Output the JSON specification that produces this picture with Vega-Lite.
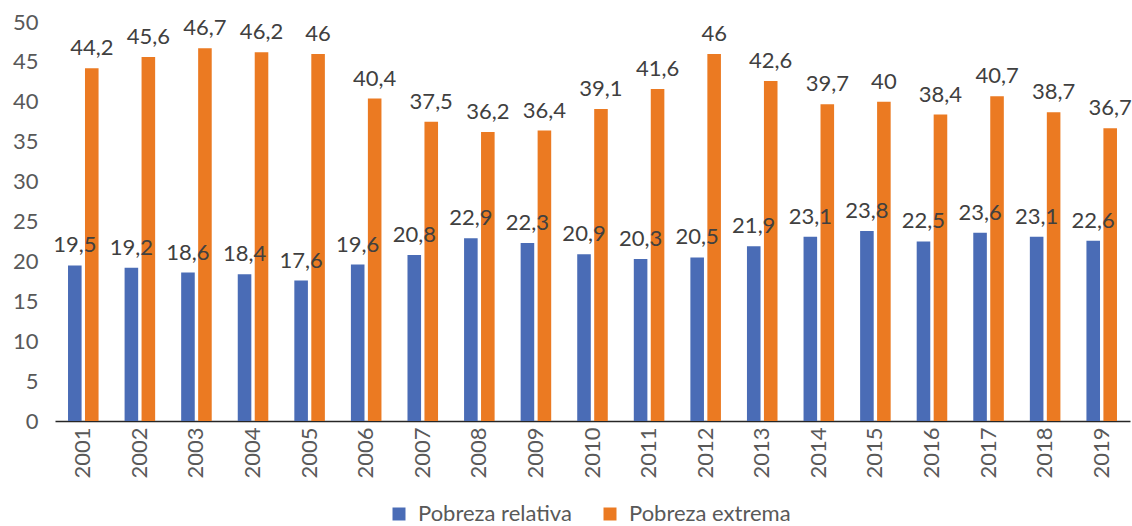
{
  "$schema": "https://vega.github.io/schema/vega-lite/v6.json",
  "width": 1075,
  "height": 399,
  "autosize": {"type": "none"},
  "padding": {"left": 55, "top": 22, "right": 2, "bottom": 105},
  "config": {
    "locale": {"number": {"decimal": ",", "thousands": ".", "grouping": [3], "currency": ["", " €"]}},
    "view": {"stroke": null},
    "font": "Lato"
  },
  "data": {
    "values": [
      {"ano": "2001", "serie": "Pobreza relativa", "valor": 19.5},
      {"ano": "2002", "serie": "Pobreza relativa", "valor": 19.2},
      {"ano": "2003", "serie": "Pobreza relativa", "valor": 18.6},
      {"ano": "2004", "serie": "Pobreza relativa", "valor": 18.4},
      {"ano": "2005", "serie": "Pobreza relativa", "valor": 17.6},
      {"ano": "2006", "serie": "Pobreza relativa", "valor": 19.6},
      {"ano": "2007", "serie": "Pobreza relativa", "valor": 20.8},
      {"ano": "2008", "serie": "Pobreza relativa", "valor": 22.9},
      {"ano": "2009", "serie": "Pobreza relativa", "valor": 22.3},
      {"ano": "2010", "serie": "Pobreza relativa", "valor": 20.9},
      {"ano": "2011", "serie": "Pobreza relativa", "valor": 20.3},
      {"ano": "2012", "serie": "Pobreza relativa", "valor": 20.5},
      {"ano": "2013", "serie": "Pobreza relativa", "valor": 21.9},
      {"ano": "2014", "serie": "Pobreza relativa", "valor": 23.1},
      {"ano": "2015", "serie": "Pobreza relativa", "valor": 23.8},
      {"ano": "2016", "serie": "Pobreza relativa", "valor": 22.5},
      {"ano": "2017", "serie": "Pobreza relativa", "valor": 23.6},
      {"ano": "2018", "serie": "Pobreza relativa", "valor": 23.1},
      {"ano": "2019", "serie": "Pobreza relativa", "valor": 22.6},
      {"ano": "2001", "serie": "Pobreza extrema", "valor": 44.2},
      {"ano": "2002", "serie": "Pobreza extrema", "valor": 45.6},
      {"ano": "2003", "serie": "Pobreza extrema", "valor": 46.7},
      {"ano": "2004", "serie": "Pobreza extrema", "valor": 46.2},
      {"ano": "2005", "serie": "Pobreza extrema", "valor": 46},
      {"ano": "2006", "serie": "Pobreza extrema", "valor": 40.4},
      {"ano": "2007", "serie": "Pobreza extrema", "valor": 37.5},
      {"ano": "2008", "serie": "Pobreza extrema", "valor": 36.2},
      {"ano": "2009", "serie": "Pobreza extrema", "valor": 36.4},
      {"ano": "2010", "serie": "Pobreza extrema", "valor": 39.1},
      {"ano": "2011", "serie": "Pobreza extrema", "valor": 41.6},
      {"ano": "2012", "serie": "Pobreza extrema", "valor": 46},
      {"ano": "2013", "serie": "Pobreza extrema", "valor": 42.6},
      {"ano": "2014", "serie": "Pobreza extrema", "valor": 39.7},
      {"ano": "2015", "serie": "Pobreza extrema", "valor": 40},
      {"ano": "2016", "serie": "Pobreza extrema", "valor": 38.4},
      {"ano": "2017", "serie": "Pobreza extrema", "valor": 40.7},
      {"ano": "2018", "serie": "Pobreza extrema", "valor": 38.7},
      {"ano": "2019", "serie": "Pobreza extrema", "valor": 36.7}
    ]
  },
  "encoding": {
    "x": {
      "field": "ano",
      "type": "nominal",
      "scale": {"paddingInner": 0.46, "paddingOuter": 0.23},
      "axis": {
        "title": null,
        "labelAngle": -90,
        "labelFontSize": 22,
        "labelColor": "#595959",
        "labelPadding": 6,
        "ticks": false,
        "domainColor": "#262626",
        "domainWidth": 1.5,
        "grid": false
      }
    },
    "xOffset": {
      "field": "serie",
      "type": "nominal",
      "sort": ["Pobreza relativa", "Pobreza extrema"],
      "scale": {"paddingInner": 0.2, "paddingOuter": 0}
    },
    "y": {
      "field": "valor",
      "type": "quantitative",
      "scale": {"domain": [0, 50]},
      "axis": {
        "title": null,
        "values": [0, 5, 10, 15, 20, 25, 30, 35, 40, 45, 50],
        "labelFontSize": 22,
        "labelColor": "#595959",
        "labelPadding": 17,
        "ticks": false,
        "domain": false,
        "grid": false
      }
    }
  },
  "layer": [
    {
      "mark": {"type": "bar"},
      "encoding": {
        "color": {
          "field": "serie",
          "type": "nominal",
          "sort": ["Pobreza relativa", "Pobreza extrema"],
          "scale": {"domain": ["Pobreza relativa", "Pobreza extrema"], "range": ["#4A6CB6", "#EB7A22"]},
          "legend": {
            "title": null,
            "orient": "none",
            "direction": "horizontal",
            "legendX": 333,
            "legendY": 481,
            "symbolType": "square",
            "symbolSize": 169,
            "symbolStrokeWidth": 0,
            "labelFontSize": 22,
            "labelColor": "#595959",
            "labelOffset": 8,
            "labelLimit": 0,
            "columnPadding": 27
          }
        }
      }
    },
    {
      "mark": {"type": "text", "baseline": "bottom", "dy": -8, "fontSize": 22, "color": "#404040"},
      "encoding": {
        "text": {"field": "valor", "type": "quantitative", "format": "~g"}
      }
    }
  ]
}
